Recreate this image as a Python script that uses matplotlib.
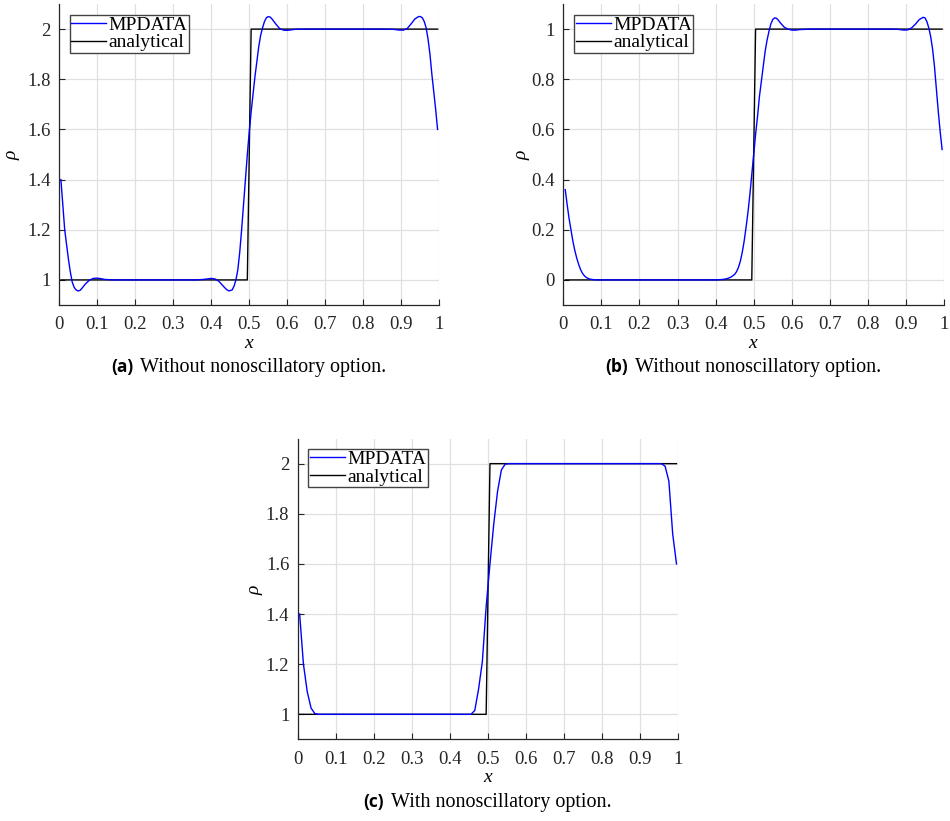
import matplotlib
matplotlib.use("Agg")
import matplotlib.pyplot as plt
from matplotlib.offsetbox import TextArea, HPacker, AnnotationBbox

SERIF = ["Liberation Serif", "DejaVu Serif"]
plt.rcParams["font.family"] = SERIF
plt.rcParams["mathtext.fontset"] = "custom"
plt.rcParams["mathtext.it"] = "Liberation Serif:italic"

# Panel (a): rho in [1, 2], no limiter
x_a = [0.005, 0.01, 0.015, 0.02, 0.025, 0.03, 0.035, 0.04, 0.045, 0.05,
       0.055, 0.06, 0.07, 0.08, 0.09, 0.1, 0.11, 0.12, 0.14, 0.2, 0.3,
       0.36, 0.38, 0.39, 0.40, 0.41, 0.42, 0.43, 0.44, 0.447, 0.455, 0.46,
       0.465, 0.47, 0.475, 0.48, 0.485, 0.49, 0.495, 0.50, 0.505, 0.51,
       0.515, 0.52, 0.525, 0.53, 0.535, 0.54, 0.545, 0.55, 0.555, 0.56,
       0.57, 0.58, 0.59, 0.60, 0.61, 0.62, 0.65, 0.85, 0.88, 0.895, 0.905,
       0.915, 0.925, 0.935, 0.945, 0.95, 0.955, 0.96, 0.965, 0.97, 0.975,
       0.98, 0.985, 0.99, 0.995]
rho_a = [1.40, 1.30, 1.20, 1.14, 1.08, 1.03, 0.99, 0.97, 0.96, 0.956,
         0.958, 0.966, 0.985, 0.999, 1.006, 1.007, 1.005, 1.002, 1.0, 1.0, 1.0,
         1.0, 1.002, 1.004, 1.006, 1.004, 0.995, 0.978, 0.962, 0.956, 0.960, 0.975,
         1.0, 1.04, 1.11, 1.20, 1.30, 1.40, 1.50, 1.59, 1.67, 1.74,
         1.81, 1.87, 1.93, 1.975, 2.005, 2.03, 2.045, 2.05, 2.048, 2.04,
         2.02, 2.002, 1.996, 1.995, 1.997, 1.999, 2.0, 2.0, 1.999, 1.996, 1.996,
         2.002, 2.02, 2.04, 2.05, 2.05, 2.045, 2.03, 2.005, 1.96, 1.90,
         1.82, 1.75, 1.68, 1.60]
x_exact_a = [0.005, 0.495, 0.505, 0.995]
rho_exact_a = [1, 1, 2, 2]

# Panel (b): rho in [0, 1], no limiter
x_b = [0.005, 0.01, 0.015, 0.02, 0.025, 0.03, 0.035, 0.04, 0.045, 0.05,
       0.055, 0.06, 0.065, 0.07, 0.08, 0.09, 0.40, 0.42, 0.43, 0.44, 0.45,
       0.455, 0.46, 0.465, 0.47, 0.475, 0.48, 0.485, 0.49, 0.495, 0.50,
       0.505, 0.51, 0.515, 0.52, 0.525, 0.53, 0.535, 0.54, 0.545, 0.55,
       0.555, 0.56, 0.565, 0.57, 0.58, 0.59, 0.60, 0.61, 0.62, 0.65, 0.86,
       0.88, 0.895, 0.905, 0.915, 0.925, 0.935, 0.945, 0.95, 0.955, 0.96,
       0.965, 0.97, 0.975, 0.98, 0.985, 0.99, 0.995]
rho_b = [0.36, 0.30, 0.245, 0.20, 0.155, 0.118, 0.088, 0.063, 0.042, 0.027,
         0.017, 0.010, 0.006, 0.003, 0.001, 0.0, 0.0, 0.002, 0.005, 0.011, 0.022,
         0.033, 0.05, 0.075, 0.11, 0.155, 0.21, 0.27, 0.34, 0.42, 0.50,
         0.58, 0.65, 0.73, 0.79, 0.85, 0.91, 0.955, 0.99, 1.02, 1.038,
         1.045, 1.043, 1.035, 1.025, 1.008, 1.0, 0.996, 0.996, 0.998, 1.0, 1.0,
         0.999, 0.996, 0.997, 1.005, 1.02, 1.038, 1.047, 1.045, 1.03, 1.005,
         0.97, 0.92, 0.85, 0.76, 0.67, 0.59, 0.52]
x_exact_b = [0.005, 0.495, 0.505, 0.995]
rho_exact_b = [0, 0, 1, 1]

# Panel (c): rho in [1, 2], nonoscillatory option
x_c = [0.005, 0.015, 0.025, 0.035, 0.045, 0.055, 0.455, 0.465, 0.475, 0.485,
       0.495, 0.505, 0.515, 0.525, 0.535, 0.545, 0.555, 0.955, 0.965, 0.975,
       0.985, 0.995]
rho_c = [1.40, 1.20, 1.09, 1.025, 1.003, 1.0, 1.0, 1.015, 1.10, 1.21,
         1.43, 1.60, 1.76, 1.89, 1.975, 1.998, 2.0, 2.0, 1.99, 1.93,
         1.72, 1.60]
x_exact_c = [0.005, 0.495, 0.505, 0.995]
rho_exact_c = [1, 1, 2, 2]

x_ticks = [0, 0.1, 0.2, 0.3, 0.4, 0.5, 0.6, 0.7, 0.8, 0.9, 1]
x_tick_labels = ["0", "0.1", "0.2", "0.3", "0.4", "0.5", "0.6", "0.7", "0.8", "0.9", "1"]
y_ticks_12 = [1, 1.2, 1.4, 1.6, 1.8, 2]
y_labels_12 = ["1", "1.2", "1.4", "1.6", "1.8", "2"]
y_ticks_01 = [0, 0.2, 0.4, 0.6, 0.8, 1]
y_labels_01 = ["0", "0.2", "0.4", "0.6", "0.8", "1"]


def draw_panel(ax, x, rho, xe, rhoe, yticks, ylabels, ylim, ylab_x):
    ax.grid(True, color="#e0e0e0", linewidth=0.9)
    ax.set_axisbelow(True)
    ax.plot(x, rho, color="#0000ff", linewidth=1.0, label="MPDATA", zorder=3)
    ax.plot(xe, rhoe, color="black", linewidth=1.0, label="analytical", zorder=2)
    ax.set_xlim(0, 1)
    ax.set_ylim(*ylim)
    ax.set_xticks(x_ticks)
    ax.set_xticklabels(x_tick_labels)
    ax.set_yticks(yticks)
    ax.set_yticklabels(ylabels)
    ax.tick_params(direction="in", length=4, width=0.8, labelsize=13.5,
                   colors="#262626", pad=6)
    ax.tick_params(axis="x", pad=8)
    for s in ["top", "right"]:
        ax.spines[s].set_visible(False)
    for s in ["left", "bottom"]:
        ax.spines[s].set_color("#262626")
        ax.spines[s].set_linewidth(0.9)
    ax.set_xlabel("$x$", fontsize=14, labelpad=1)
    ax.set_ylabel(r"$\rho$", fontsize=14)
    ax.yaxis.set_label_coords(ylab_x, 0.5)
    leg = ax.legend(loc="upper left", bbox_to_anchor=(0.028, 0.965),
                    borderaxespad=0, fancybox=False, framealpha=1,
                    edgecolor="#444444", fontsize=14, handlelength=1.8,
                    handletextpad=0.12, labelspacing=0.0, borderpad=0.08)
    leg.get_frame().set_linewidth(1.0)


def caption(fig, letter, text, xf, yf):
    t1 = TextArea(letter, textprops=dict(family=["Open Sans", "DejaVu Sans"],
                                         weight="bold", fontsize=12.5))
    t2 = TextArea(text, textprops=dict(family=SERIF, fontsize=14.5))
    box = HPacker(children=[t1, t2], align="baseline", pad=0, sep=5)
    ab = AnnotationBbox(box, (xf, yf), xycoords="figure fraction",
                        box_alignment=(0.5, 0.5), frameon=False)
    fig.add_artist(ab)


fig = plt.figure(figsize=(9.5, 8.21), dpi=100)
ax_a = fig.add_axes([0.0621, 0.6285, 0.4005, 0.3666])
ax_b = fig.add_axes([0.5930, 0.6285, 0.4007, 0.3666])
ax_c = fig.add_axes([0.3134, 0.0994, 0.4007, 0.3664])

draw_panel(ax_a, x_a, rho_a, x_exact_a, rho_exact_a, y_ticks_12, y_labels_12, (0.9, 2.1), -0.097)
draw_panel(ax_b, x_b, rho_b, x_exact_b, rho_exact_b, y_ticks_01, y_labels_01, (-0.1, 1.1), -0.082)
draw_panel(ax_c, x_c, rho_c, x_exact_c, rho_exact_c, y_ticks_12, y_labels_12, (0.9, 2.1), -0.086)

caption(fig, "(a)", "Without nonoscillatory option.", 0.262, 0.552)
caption(fig, "(b)", "Without nonoscillatory option.", 0.782, 0.552)
caption(fig, "(c)", "With nonoscillatory option.", 0.513, 0.0225)

fig.savefig("out.png", dpi=100)
